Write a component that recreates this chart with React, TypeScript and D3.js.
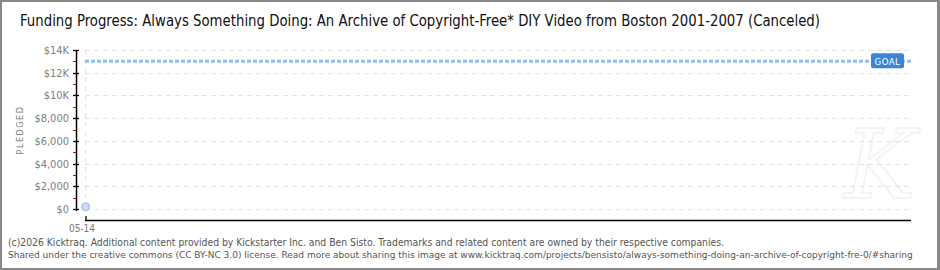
import React from "react";
import * as d3 from "d3";

const title = "Funding Progress: Always Something Doing: An Archive of Copyright-Free* DIY Video from Boston 2001-2007 (Canceled)";
const dates = ["2014-05-14"];
const pledged = [200];
const goal = 13000;
const yTicks = [0, 2000, 4000, 6000, 8000, 10000, 12000, 14000];
const yMinor = [1000, 3000, 5000, 7000, 9000, 11000, 13000];
const xDomain = ["2014-05-14", "2014-06-13"];
const footer1 = "(c)2026 Kicktraq. Additional content provided by Kickstarter Inc. and Ben Sisto. Trademarks and related content are owned by their respective companies.";
const footer2 = "Shared under the creative commons (CC BY-NC 3.0) license. Read more about sharing this image at www.kicktraq.com/projects/bensisto/always-something-doing-an-archive-of-copyright-fre-0/#sharing";

const W = 940, H = 270;
const parse = d3.timeParse("%Y-%m-%d");

export default function App() {
  const x = d3.scaleTime().domain(xDomain.map((d) => parse(d)!)).range([85, 911]);
  const y = d3.scaleLinear().domain([0, 14000]).range([209, 50]);
  const fmt = (v: number) => (v >= 10000 ? `$${v / 1000}K` : d3.format("$,")(v));
  const tickFont = "'DejaVu Sans Condensed', 'DejaVu Sans', sans-serif";
  const gy = y(goal);
  return (
    <svg width={W} height={H} style={{ position: "fixed", left: 0, top: 0, background: "#fff" }}>
      <rect x={1} y={1} width={W - 2} height={H - 2} fill="#fff" stroke="#888" strokeWidth={2} />
      <text x={20} y={26} fontSize={15} fontFamily={tickFont} fill="#111" textLength={800} lengthAdjust="spacingAndGlyphs">{title}</text>
      {/* watermark */}
      <text x={880} y={198} fontSize={95} fontStyle="italic" fontFamily="'DejaVu Serif', serif" fill="none" stroke="#f3f3f3" strokeWidth={2} textAnchor="middle">K</text>
      {/* grid */}
      {yTicks.map((t) => (
        <line key={t} x1={85} x2={911} y1={Math.round(y(t)) + 0.5} y2={Math.round(y(t)) + 0.5} stroke="#e3e3e3" strokeDasharray="5,4" />
      ))}
      {dates.map((d) => (
        <line key={d} x1={Math.round(x(parse(d)!)) + 0.5} x2={Math.round(x(parse(d)!)) + 0.5} y1={50} y2={209} stroke="#e3e3e3" strokeDasharray="5,4" />
      ))}
      {/* goal */}
      <line x1={85} x2={911} y1={gy} y2={gy} stroke="#8fbdf0" strokeWidth={3} strokeDasharray="4,2" />
      <rect x={871} y={gy - 8} width={33} height={15} rx={2} fill="#3a86d8" />
      <text x={887.5} y={gy + 3.5} fontSize={9.5} fontFamily={tickFont} fill="#fff" textAnchor="middle" letterSpacing={0.5}>GOAL</text>
      {/* y axis */}
      <line x1={76.5} x2={76.5} y1={50} y2={211} stroke="#000" strokeWidth={1.5} />
      {yMinor.map((t) => (
        <line key={t} x1={73} x2={76} y1={Math.round(y(t)) + 0.5} y2={Math.round(y(t)) + 0.5} stroke="#d00" />
      ))}
      {yTicks.map((t) => (
        <g key={t}>
          <line x1={73} x2={79} y1={Math.round(y(t)) + 0.5} y2={Math.round(y(t)) + 0.5} stroke="#000" strokeWidth={1.3} />
          <text x={69} y={y(t) + 4} fontSize={11} fontFamily={tickFont} fill="#808080" textAnchor="end">{fmt(t)}</text>
        </g>
      ))}
      <text transform="translate(23,130) rotate(-90)" fontSize={9} fontFamily={tickFont} fill="#777" textAnchor="middle" letterSpacing={1.5}>PLEDGED</text>
      {/* x axis */}
      <line x1={85} x2={911} y1={220.5} y2={220.5} stroke="#000" strokeWidth={1.5} />
      {dates.map((d) => (
        <g key={d}>
          <line x1={x(parse(d)!) + 1} x2={x(parse(d)!) + 1} y1={216} y2={221} stroke="#000" strokeWidth={1.3} />
          <text x={x(parse(d)!) - 3} y={232} fontSize={10} fontFamily={tickFont} fill="#777" textAnchor="middle">{d3.timeFormat("%m-%d")(parse(d)!)}</text>
        </g>
      ))}
      {/* data */}
      {dates.map((d, i) => (
        <circle key={d} cx={x(parse(d)!) + 0.5} cy={y(pledged[i])} r={4} fill="#c8dcf5" stroke="#9bb8dc" strokeWidth={1} />
      ))}
      <text x={8} y={246} fontSize={9.6} fontFamily="'DejaVu Sans', sans-serif" fill="#555" textLength={716} lengthAdjust="spacingAndGlyphs">{footer1}</text>
      <text x={8} y={258} fontSize={9} fontFamily="'DejaVu Sans', sans-serif" fill="#555">{footer2}</text>
      <rect x={937} y={0} width={3} height={H} fill="#888" />
    </svg>
  );
}
